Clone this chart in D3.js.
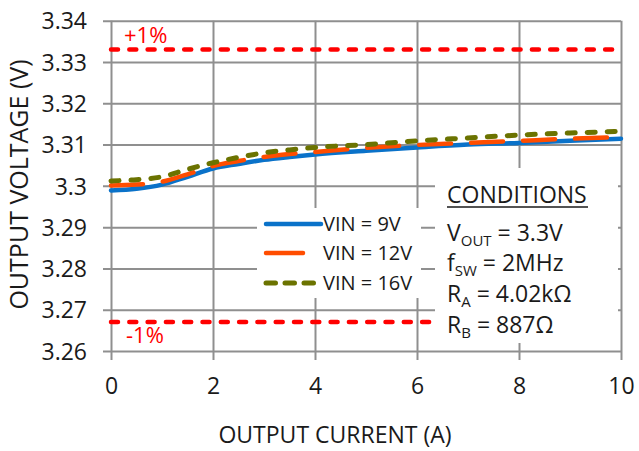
<!DOCTYPE html>
<html>
<head>
<meta charset="utf-8">
<script src="https://cdn.jsdelivr.net/npm/d3@7"></script>
<style>
  body { margin: 0; background: #fff; }
  svg { display: block; font-family: "Open Sans", "Noto Sans", sans-serif; }
</style>
</head>
<body>
<svg id="chart" width="639" height="451"></svg>
<script>
// ---- data ----
const current = [0, 0.5, 1, 1.5, 2, 2.5, 3, 3.5, 4, 5, 6, 7, 8, 9, 10];
const vin9  = [3.2989, 3.2993, 3.3003, 3.3022, 3.3042, 3.3053, 3.3063, 3.3070, 3.3076, 3.3085, 3.3093, 3.3100, 3.3104, 3.3109, 3.3114];
const vin12 = [3.3001, 3.3003, 3.3010, 3.3028, 3.3048, 3.3060, 3.3070, 3.3077, 3.3082, 3.3092, 3.3099, 3.3104, 3.3109, 3.3114, 3.3118];
const vin16 = [3.3012, 3.3015, 3.3022, 3.3040, 3.3056, 3.3069, 3.3080, 3.3087, 3.3093, 3.3100, 3.3109, 3.3116, 3.3123, 3.3128, 3.3132];
const seriesNames = ["VIN = 9V", "VIN = 12V", "VIN = 16V"];
const limits = [3.333, 3.267];
const limitLabels = ["+1%", "-1%"];
const xTicks = [0, 2, 4, 6, 8, 10];
const xTickLabels = ["0", "2", "4", "6", "8", "10"];
const yTicks = [3.26, 3.27, 3.28, 3.29, 3.30, 3.31, 3.32, 3.33, 3.34];
const yTickLabels = ["3.26", "3.27", "3.28", "3.29", "3.3", "3.31", "3.32", "3.33", "3.34"];

const svg = d3.select("#chart");
const mLeft = 111, mRight = 621, mTop = 20.7, mBottom = 351;
const x = d3.scaleLinear().domain([0, 10]).range([mLeft, mRight]);
const y = d3.scaleLinear().domain([3.26, 3.34]).range([mBottom, mTop]);
const gridColor = "#8f8f8f";

// gridlines + ticks (y)
const gy = svg.append("g").attr("transform", `translate(${mLeft},0)`)
  .call(d3.axisLeft(y).tickValues(yTicks).tickSize(-(mRight - mLeft)).tickSizeOuter(0).tickFormat(""));
gy.select(".domain").remove();
gy.selectAll("line").attr("stroke", gridColor).attr("stroke-width", 2).attr("x1", -8);

// gridlines (x)
const gx = svg.append("g").attr("transform", `translate(0,${mBottom})`)
  .call(d3.axisBottom(x).tickValues(xTicks).tickSize(-(mBottom - mTop)).tickSizeOuter(0).tickFormat(""));
gx.select(".domain").remove();
gx.selectAll("line").attr("stroke", gridColor).attr("stroke-width", 2).attr("y1", 9);

// tick labels
const yl = svg.append("g").attr("transform", `translate(${mLeft},0)`)
  .call(d3.axisLeft(y).tickValues(yTicks).tickSize(0).tickPadding(24).tickFormat((d, i) => yTickLabels[i]));
yl.select(".domain").remove();
yl.selectAll("text").attr("font-size", 23).attr("fill", "#1a1a1a").attr("font-family", "Open Sans").attr("dy", "0.36em");

const xl = svg.append("g").attr("transform", `translate(0,${mBottom})`)
  .call(d3.axisBottom(x).tickValues(xTicks).tickSize(0).tickPadding(27).tickFormat((d, i) => xTickLabels[i]));
xl.select(".domain").remove();
xl.selectAll("text").attr("font-size", 23).attr("fill", "#1a1a1a").attr("font-family", "Open Sans");

// limit lines
limits.forEach((v) => {
  svg.append("line")
    .attr("x1", x(0)).attr("x2", x(10)).attr("y1", y(v)).attr("y2", y(v))
    .attr("stroke", "#ff0000").attr("stroke-width", 4.5)
    .attr("stroke-dasharray", "7,11.3").attr("stroke-linecap", "round");
});
svg.append("text").attr("x", 124).attr("y", y(limits[0]) - 7).text(limitLabels[0])
  .attr("fill", "#ff0000").attr("font-size", 22);
svg.append("text").attr("x", 126).attr("y", y(limits[1]) + 21).text(limitLabels[1])
  .attr("fill", "#ff0000").attr("font-size", 22);

// data lines
const styles = [
  { color: "#0a72c9", width: 4.5, dash: null },
  { color: "#ff4d00", width: 4.5, dash: "32,20" },
  { color: "#6b7300", width: 5, dash: "8,12" }
];
const allSeries = [vin9, vin12, vin16];
const line = d3.line().x((d, i) => x(current[i])).y(d => y(d)).curve(d3.curveMonotoneX);
allSeries.forEach((s, k) => {
  const p = svg.append("path").datum(s).attr("d", line)
    .attr("fill", "none").attr("stroke", styles[k].color)
    .attr("stroke-width", styles[k].width).attr("stroke-linecap", "round");
  if (styles[k].dash) p.attr("stroke-dasharray", styles[k].dash);
});

// legend box
svg.append("rect").attr("x", 257).attr("y", 208).attr("width", 164).attr("height", 90).attr("fill", "#fff");
const legY = [224, 253, 283];
const legLen = [55, 37, 48];
allSeries.forEach((s, k) => {
  const l = svg.append("line").attr("x1", 266).attr("x2", 266 + legLen[k])
    .attr("y1", legY[k]).attr("y2", legY[k])
    .attr("stroke", styles[k].color).attr("stroke-width", styles[k].width)
    .attr("stroke-linecap", "round");
  if (k === 2) l.attr("stroke-dasharray", "9.5,9.5");
  svg.append("text").attr("x", 323).attr("y", legY[k] + 6.5).text(seriesNames[k])
    .attr("font-size", 20).attr("fill", "#1a1a1a");
});

// conditions box
svg.append("rect").attr("x", 435).attr("y", 168).attr("width", 183).attr("height", 175).attr("fill", "#fff");
const cx = 447;
svg.append("text").attr("x", cx).attr("y", 203).text("CONDITIONS")
  .attr("font-size", 23).attr("fill", "#1a1a1a");
svg.append("line").attr("x1", cx).attr("x2", 588).attr("y1", 207).attr("y2", 207)
  .attr("stroke", "#1a1a1a").attr("stroke-width", 1.6);
const condLines = [
  { main: "V", sub: "OUT", rest: " = 3.3V", y: 241 },
  { main: "f", sub: "SW", rest: " = 2MHz", y: 271 },
  { main: "R", sub: "A", rest: " = 4.02kΩ", y: 302 },
  { main: "R", sub: "B", rest: " = 887Ω", y: 333 }
];
condLines.forEach(c => {
  const t = svg.append("text").attr("x", cx).attr("y", c.y).attr("font-size", 23).attr("fill", "#1a1a1a");
  t.append("tspan").text(c.main);
  t.append("tspan").text(c.sub).attr("font-size", 15).attr("dy", 5);
  t.append("tspan").text(c.rest).attr("dy", -5);
});

// axis titles
svg.append("text").attr("x", 335).attr("y", 443).attr("text-anchor", "middle")
  .text("OUTPUT CURRENT (A)").attr("font-size", 23).attr("fill", "#1a1a1a");
svg.append("text").attr("transform", `translate(28,184.5) rotate(-90)`).attr("text-anchor", "middle")
  .text("OUTPUT VOLTAGE (V)").attr("font-size", 25).attr("fill", "#1a1a1a");
</script>
</body>
</html>
